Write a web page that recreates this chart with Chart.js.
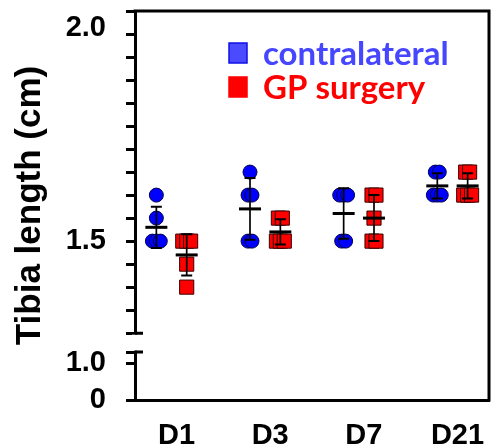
<!DOCTYPE html>
<html><head><meta charset="utf-8">
<script src="https://cdn.jsdelivr.net/npm/chart.js@4/dist/chart.umd.min.js"></script>
<style>html,body{margin:0;padding:0;background:#fff;}canvas{display:block}</style>
</head><body>
<canvas id="c" width="500" height="448"></canvas>
<script>
// ---- data ----
const categories = ['D1', 'D3', 'D7', 'D21'];
const contralateral = [
  [1.60, 1.55, 1.50, 1.50, 1.50],
  [1.65, 1.60, 1.60, 1.50, 1.50],
  [1.60, 1.60, 1.60, 1.50, 1.50],
  [1.65, 1.65, 1.60, 1.60, 1.60]
];
const gpSurgery = [
  [1.50, 1.50, 1.50, 1.45, 1.40],
  [1.55, 1.55, 1.50, 1.50, 1.50],
  [1.60, 1.60, 1.55, 1.50, 1.50],
  [1.65, 1.65, 1.60, 1.60, 1.60]
];
const seriesNames = ['contralateral', 'GP surgery'];
const yTickValues = [0, 1.0, 1.5, 2.0];
const yTickLabels = ['0', '1.0', '1.5', '2.0'];
const yTitle = 'Tibia length (cm)';

// ---- broken y axis (layout) ----
const BRK = { low: 1.3, top: 2.0, lowH: 48, gap: 19, upH: 323 };
const AXIS_MAX = BRK.lowH + BRK.gap + BRK.upH;
function toAxis(v) {
  return v <= BRK.low ? v / BRK.low * BRK.lowH
    : BRK.lowH + BRK.gap + (v - BRK.low) / (BRK.top - BRK.low) * BRK.upH;
}
const yTicks = [];
yTickValues.forEach((v, i) => yTicks.push({ u: toAxis(v), label: yTickLabels[i] }));
yTicks.push({ u: BRK.lowH, label: '' });            // lower segment cap
yTicks.push({ u: BRK.lowH + BRK.gap, label: '' });  // upper segment cap
for (let k = 1; k < 14; k++) {
  const v = Math.round((BRK.low + k * 0.05) * 100) / 100;
  if (!yTickValues.includes(v)) yTicks.push({ u: toAxis(v), label: '' });
}
yTicks.sort((a, b) => a.u - b.u);

const GROUP_OFFSET = [-0.162, 0.162];
const JIT = 0.042;
function buildPoints(series, offset) {
  const pts = [];
  series.forEach((vals, ci) => {
    const counts = {}, seen = {};
    vals.forEach(v => counts[v] = (counts[v] || 0) + 1);
    vals.forEach(v => {
      const j = seen[v] || 0; seen[v] = j + 1;
      const jit = (j - (counts[v] - 1) / 2) * JIT;
      pts.push({ x: ci + offset + jit, y: toAxis(v) });
    });
  });
  return pts;
}
function meanSd(vals) {
  const n = vals.length, m = vals.reduce((a, b) => a + b, 0) / n;
  const sd = Math.sqrt(vals.reduce((a, b) => a + (b - m) * (b - m), 0) / (n - 1));
  return { m, sd };
}
const seriesData = [contralateral, gpSurgery];

const FONT = 'Liberation Sans, Arial, sans-serif';

const errorBars = {
  id: 'errorBars',
  afterDatasetsDraw(chart) {
    const { ctx, scales: { x, y } } = chart;
    ctx.save();
    ctx.strokeStyle = '#000';
    seriesData.forEach((series, si) => {
      series.forEach((vals, ci) => {
        const { m, sd } = meanSd(vals);
        const px = x.getPixelForValue(ci + GROUP_OFFSET[si]);
        const pm = y.getPixelForValue(toAxis(m));
        const pt = y.getPixelForValue(toAxis(m + sd));
        const pb = y.getPixelForValue(toAxis(m - sd));
        ctx.lineWidth = 1.7;
        ctx.beginPath(); ctx.moveTo(px, pt); ctx.lineTo(px, pb); ctx.stroke();
        ctx.lineWidth = 2;
        ctx.beginPath();
        ctx.moveTo(px - 5.5, pt); ctx.lineTo(px + 5.5, pt);
        ctx.moveTo(px - 5.5, pb); ctx.lineTo(px + 5.5, pb);
        ctx.stroke();
        ctx.lineWidth = 3;
        ctx.beginPath(); ctx.moveTo(px - 11, pm); ctx.lineTo(px + 11, pm); ctx.stroke();
      });
    });
    ctx.restore();
  }
};

const frame = {
  id: 'frame',
  afterDraw(chart) {
    const { ctx, chartArea: a, scales: { y } } = chart;
    ctx.save();
    ctx.strokeStyle = '#000'; ctx.lineWidth = 3;
    ctx.beginPath();
    ctx.moveTo(a.left - 1.5, a.top); ctx.lineTo(a.right, a.top);
    ctx.moveTo(a.right, a.top - 1.5); ctx.lineTo(a.right, a.bottom + 1.5);
    ctx.stroke();
    // axis break
    const yl = y.getPixelForValue(BRK.lowH), yu = y.getPixelForValue(BRK.lowH + BRK.gap);
    ctx.fillStyle = '#fff';
    ctx.fillRect(a.left - 3, yu + 1.5, 6, yl - yu - 3);
    ctx.beginPath();
    ctx.moveTo(a.left, yl); ctx.lineTo(a.left + 8, yl);
    ctx.moveTo(a.left, yu); ctx.lineTo(a.left + 8, yu);
    ctx.stroke();
    ctx.restore();
  }
};

const legendStyle = [
  { fill: '#4a4aff', stroke: '#1010e8', text: '#4646ff' },
  { fill: '#ff0000', stroke: '#ff0000', text: '#ff0000' }
];
const customLegend = {
  id: 'customLegend',
  afterDraw(chart) {
    const { ctx } = chart;
    ctx.save();
    chart.data.datasets.forEach((ds, i) => {
      const st = legendStyle[i];
      const base = 65 + i * 34;
      ctx.fillStyle = st.fill; ctx.strokeStyle = st.stroke; ctx.lineWidth = 1.5;
      ctx.fillRect(229, base - 22, 18, 20);
      ctx.strokeRect(229, base - 22, 18, 20);
      ctx.fillStyle = st.text;
      ctx.font = 'bold 33px Lato, "Open Sans", sans-serif';
      ctx.textBaseline = 'alphabetic'; ctx.textAlign = 'left';
      ctx.fillText(ds.label, 263, base);
    });
    ctx.restore();
  }
};

new Chart(document.getElementById('c'), {
  type: 'scatter',
  data: {
    datasets: [
      { label: seriesNames[0], data: buildPoints(contralateral, GROUP_OFFSET[0]),
        pointStyle: 'circle', pointRadius: 7, pointHoverRadius: 7,
        backgroundColor: '#0000ff', borderColor: '#00004a', borderWidth: 1 },
      { label: seriesNames[1], data: buildPoints(gpSurgery, GROUP_OFFSET[1]),
        pointStyle: 'rect', pointRadius: 10, pointHoverRadius: 10,
        backgroundColor: '#ff0000', borderColor: '#3a0000', borderWidth: 1 }
    ]
  },
  options: {
    responsive: false, animation: false, devicePixelRatio: 1,
    layout: { padding: { left: 0, top: 10, right: 3, bottom: 0 } },
    plugins: { legend: { display: false }, tooltip: { enabled: false } },
    scales: {
      x: {
        type: 'linear', min: -0.39, max: 3.39,
        afterBuildTicks: s => { s.ticks = categories.map((c, i) => ({ value: i })); },
        afterFit: s => { s.height = 48; s.paddingLeft = 0; s.paddingRight = 0; },
        ticks: { autoSkip: false, maxRotation: 0, color: '#000', padding: 19, labelOffset: 5,
          font: { family: FONT, size: 29, weight: 'bold' },
          callback: (v, i) => categories[i] },
        grid: { display: false, drawTicks: false },
        border: { display: true, color: '#000', width: 3 }
      },
      y: {
        type: 'linear', min: 0, max: AXIS_MAX,
        afterBuildTicks: s => { s.ticks = yTicks.map(t => ({ value: t.u })); },
        afterFit: s => { s.width = 135; s.paddingTop = 0; s.paddingBottom = 0; },
        ticks: { autoSkip: false, color: '#000', padding: 20,
          font: { family: FONT, size: 29, weight: 'bold' },
          callback: (v, i) => {
            const l = yTicks[i].label;
            return yTicks[i].u === AXIS_MAX ? ['', l] : l;
          } },
        grid: { display: true, drawOnChartArea: false, drawTicks: true, tickLength: 9,
          color: '#000', lineWidth: 3 },
        border: { display: true, color: '#000', width: 3 },
        title: { display: true, text: yTitle, color: '#000',
          font: { family: FONT, size: 35, weight: 'bold' }, padding: { top: 9, bottom: 0 } }
      }
    }
  },
  plugins: [errorBars, frame, customLegend]
});
</script>
</body></html>
